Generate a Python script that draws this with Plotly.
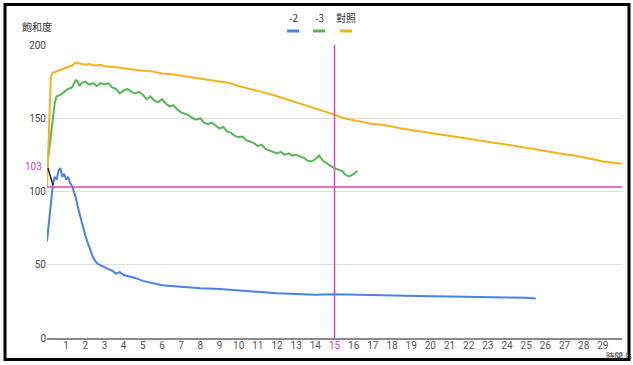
import plotly.graph_objects as go

# ---------------- data ----------------
SERIES_NAMES = ["-2", "-3", "對照"]
COLORS = ["#4a82e6", "#58b55a", "#f2b31c"]

t_blue = [0, 0.1, 0.2, 0.3, 0.4, 0.5, 0.6, 0.7, 0.8, 0.9, 1.0, 1.1, 1.2, 1.3, 1.4, 1.5, 1.6, 1.7,
          1.8, 1.9, 2.0, 2.1, 2.2, 2.3, 2.4, 2.5, 2.6, 2.8, 3.0, 3.2, 3.4, 3.6, 3.8, 4.0, 4.3, 4.6,
          5.0, 5.3, 5.6, 6.0, 6.5, 7.0, 7.5, 8.0, 9, 10, 11, 12, 13, 14, 15, 16, 17, 18, 19, 20,
          21, 22, 23, 24, 25, 25.5]
v_blue = [66, 80, 95, 104, 110, 108, 114, 116, 110, 112, 108, 110, 106, 104, 100, 96, 90, 85,
          79, 74, 70, 66, 62, 58, 55, 53, 51, 49.5, 48, 47, 46, 44, 45, 43, 42, 41,
          39, 38, 37, 36, 35.5, 35, 34.5, 34, 33.5, 32.5, 31, 30.5, 30, 29.5, 29.8, 29.5, 29, 29,
          28.8, 28.5, 28.4, 28, 28, 27.6, 27.5, 27]

t_green = [0, 0.2, 0.4, 0.5, 0.7, 0.9, 1.1, 1.3, 1.5, 1.6, 1.7, 1.8, 2.0, 2.2, 2.4, 2.6, 2.8, 3.0,
           3.2, 3.4, 3.6, 3.8, 4.0, 4.2, 4.4, 4.6, 4.8, 5.0, 5.2, 5.4, 5.6, 5.8, 6.0, 6.2, 6.4,
           6.6, 6.8, 7.0, 7.2, 7.4, 7.6, 7.8, 8.0, 8.2, 8.4, 8.6, 8.8, 9.0, 9.2, 9.4, 9.6, 9.8,
           10.0, 10.2, 10.4, 10.6, 10.8, 11.0, 11.2, 11.4, 11.6, 11.8, 12.0, 12.2, 12.4, 12.6,
           12.8, 13.0, 13.2, 13.4, 13.6, 13.8, 14.0, 14.2, 14.4, 14.6, 14.8, 15.0, 15.2, 15.4,
           15.6, 15.8, 16.0, 16.2]
v_green = [116, 140, 160, 165, 166, 168, 170, 171, 176, 175, 172, 174, 175, 173, 174, 172, 174, 173,
           174, 171, 170, 167, 169, 170, 168, 167, 168, 166, 163, 165, 162, 161, 163, 160, 158,
           159, 156, 154, 153, 152, 150, 149, 150, 147, 146, 147, 145, 143, 144, 141, 140, 138,
           137, 137.5, 135, 134, 133, 131, 132, 129, 128, 127, 126, 127, 125, 126,
           124.5, 125, 124, 123, 121, 120.5, 122, 124.5, 121, 119, 117.5, 116, 115, 114,
           111, 110.5, 112, 114]

t_yellow = [0, 0.1, 0.2, 0.3, 0.5, 0.7, 0.9, 1.1, 1.3, 1.5, 1.7, 2.0, 2.2, 2.5, 2.8, 3.0, 3.5, 4.0,
            4.5, 5, 5.5, 6, 6.5, 7, 7.5, 8, 8.5, 9, 9.5, 10, 10.5, 11, 11.5, 12, 12.5, 13, 13.5,
            14, 14.5, 15, 15.5, 16, 16.5, 17, 17.5, 18, 18.5, 19, 19.5, 20, 20.5, 21, 21.5, 22,
            22.5, 23, 23.5, 24, 24.5, 25, 25.5, 26, 26.5, 27, 27.5, 28, 28.5, 29, 29.5, 30]
v_yellow = [103, 140, 178, 181, 182, 183, 184, 185, 186, 188, 187.5, 186.5, 187, 186, 186.5, 185.5, 185, 184,
            183, 182.5, 182, 180.5, 180, 179, 178, 177, 176.5, 175, 174, 172, 170.5, 169, 167, 165, 163, 161, 159,
            157, 155, 152.5, 150, 148.5, 147, 146, 145.5, 144, 143, 142, 141, 140, 139, 137.5, 136.5, 135.5,
            134.5, 134, 133, 132, 131, 129.5, 128.5, 127.5, 126.5, 125.5, 124.5, 123.5, 122, 120.5, 119.5, 119]

# reference lines and leader line of the "103" label
REF_Y = 103
REF_X = 15
leader_t = [0.05, 0.31]
leader_v = [116, 104.5]

x_ticks = list(range(1, 30))
y_ticks = [0, 50, 100, 150, 200]

PINK = "#d64ab5"
FONT = "Roboto, 'Noto Sans CJK TC', sans-serif"
CJK = "'Noto Sans CJK TC', sans-serif"

L, R, T, B = 47, 11, 45, 27
W, H = 633, 365
pw, ph = W - L - R, H - T - B


def px(x):
    return (x - L) / pw


def py(y):
    return (H - B - y) / ph


ticktext = [f"<span style='color:{PINK}'>{v}</span>" if v == REF_X else str(v) for v in x_ticks]

annotations = [
    dict(text="飽和度", x=px(20), y=py(27), xref="paper", yref="paper", xanchor="left",
         yanchor="middle", showarrow=False, font=dict(family=CJK, size=10, color="#333")),
    dict(text="時間 (s", x=px(604), y=py(355.5), xref="paper", yref="paper", xanchor="left",
         yanchor="middle", showarrow=False, font=dict(family=CJK, size=8.5, color="#333")),
    dict(text=str(REF_Y), x=0, y=REF_Y, xref="paper", yref="y", xanchor="right", xshift=-3,
         yanchor="middle", yshift=21, showarrow=False, font=dict(family=FONT, size=10, color=PINK)),
]
shapes = [
    dict(type="line", xref="paper", yref="y", x0=0, x1=1, y0=REF_Y, y1=REF_Y,
         line=dict(color=PINK, width=1.5)),
    dict(type="line", xref="x", yref="paper", x0=REF_X, x1=REF_X, y0=0, y1=1,
         line=dict(color=PINK, width=1.5)),
]
legend_x = [293, 319, 346]
for name, color, lx in zip(SERIES_NAMES, COLORS, legend_x):
    annotations.append(dict(text=name, x=px(lx), y=py(18), xref="paper", yref="paper",
                            xanchor="center", yanchor="middle", showarrow=False,
                            font=dict(family=CJK, size=10, color="#333")))
    shapes.append(dict(type="line", xref="paper", yref="paper", x0=px(lx - 6), x1=px(lx + 6),
                       y0=py(31), y1=py(31), line=dict(color=color, width=3)))

# outer black frame
shapes.append(dict(type="rect", xref="paper", yref="paper", x0=px(5), x1=px(629),
                   y0=py(4.5), y1=py(359.5), line=dict(color="#000", width=3), layer="above"))

# ---------------- figure ----------------
fig = go.Figure()
for name, color, tx, vy in [(SERIES_NAMES[0], COLORS[0], t_blue, v_blue),
                            (SERIES_NAMES[1], COLORS[1], t_green, v_green),
                            (SERIES_NAMES[2], COLORS[2], t_yellow, v_yellow)]:
    fig.add_trace(go.Scatter(x=tx, y=vy, mode="lines", name=name,
                             line=dict(color=color, width=2), showlegend=False))

fig.add_trace(go.Scatter(x=leader_t, y=leader_v, mode="lines",
                         line=dict(color="#222", width=1.5), showlegend=False, hoverinfo="skip"))

fig.update_layout(
    width=W, height=H,
    margin=dict(l=L, r=R, t=T, b=B),
    paper_bgcolor="white", plot_bgcolor="white",
    font=dict(family=FONT, size=10, color="#444"),
    xaxis=dict(range=[0, 30], tickvals=x_ticks, ticktext=ticktext, showgrid=False,
               zeroline=False, showline=True, linecolor="#8a8a8a", linewidth=2,
               ticks="", ticklabelstandoff=-3, tickfont=dict(size=10, color="#555")),
    yaxis=dict(range=[0, 200], tickvals=y_ticks, showgrid=True, gridcolor="#dedede",
               gridwidth=1, zeroline=False, ticks="", tickfont=dict(size=10, color="#444")),
    annotations=annotations,
    shapes=shapes,
)

fig.write_html("out.html")
